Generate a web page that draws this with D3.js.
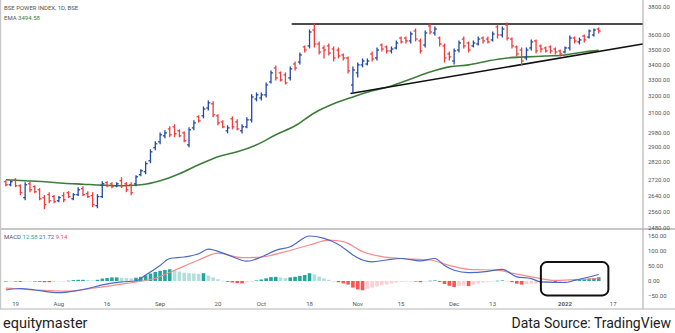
<!DOCTYPE html>
<html><head><meta charset="utf-8">
<script src="https://cdn.jsdelivr.net/npm/d3@7"></script>
<style>body{margin:0;background:#fff}svg{display:block}text{font-family:Roboto,"Open Sans",sans-serif}</style>
</head><body><svg id="c" width="675" height="333"></svg>
<script>
// ---------- data ----------
const barIndex = d3.range(-2, 122); // trading-day index, 0 = 19 Jul 2021
const open  = [2712,2696,2722,2691,2630,2701,2686,2670,2630,2645,2635,2614,2640,2655,2624,2645,2676,2650,2640,2589,2635,2707,2701,2691,2717,2701,2696,2701,2749,2765,2824,2896,2929,2963,3003,3015,2992,2980,2912,3009,3074,3080,3127,3152,3080,3044,2992,3062,3044,2992,3015,3056,3182,3188,3207,3288,3378,3346,3333,3314,3404,3417,3518,3525,3635,3538,3511,3525,3504,3497,3464,3444,3269,3346,3398,3404,3471,3444,3531,3518,3491,3511,3579,3579,3559,3628,3559,3531,3663,3614,3579,3525,3471,3424,3497,3572,3545,3525,3538,3579,3572,3566,3656,3600,3670,3572,3518,3497,3444,3511,3559,3525,3511,3518,3504,3491,3484,3511,3579,3552,3593,3586,3600,3642];
const high  = [2717,2717,2728,2696,2707,2712,2691,2676,2640,2655,2640,2635,2655,2660,2650,2681,2686,2660,2655,2645,2712,2712,2707,2707,2733,2707,2707,2743,2775,2818,2884,2929,2980,2992,3015,3027,2998,2986,3009,3050,3080,3133,3170,3164,3086,3050,3021,3074,3056,3027,3068,3207,3219,3219,3282,3359,3391,3352,3346,3385,3417,3477,3525,3635,3677,3552,3525,3538,3518,3511,3471,3451,3385,3411,3437,3437,3484,3511,3538,3525,3518,3559,3586,3586,3621,3642,3572,3628,3677,3656,3586,3538,3484,3504,3559,3586,3552,3559,3586,3586,3586,3621,3670,3656,3684,3579,3525,3511,3511,3566,3566,3531,3518,3525,3511,3497,3518,3593,3586,3579,3600,3635,3642,3649];
const low   = [2691,2691,2686,2645,2619,2660,2655,2619,2574,2604,2604,2609,2609,2630,2619,2640,2640,2630,2584,2579,2630,2686,2681,2686,2681,2660,2645,2691,2743,2754,2813,2884,2918,2952,2958,2958,2958,2929,2901,2998,3044,3068,3115,3074,3027,3009,2980,3003,2998,2980,3009,3044,3170,3176,3194,3282,3301,3294,3275,3301,3365,3404,3484,3511,3518,3471,3444,3464,3424,3444,3431,3346,3219,3320,3385,3398,3424,3431,3491,3477,3477,3504,3545,3545,3545,3559,3477,3518,3607,3600,3525,3417,3431,3404,3484,3511,3484,3518,3531,3545,3545,3559,3579,3586,3566,3511,3457,3398,3431,3497,3477,3484,3484,3477,3471,3457,3477,3497,3545,3538,3552,3579,3593,3614];
const close = [2696,2712,2691,2655,2696,2670,2660,2624,2594,2614,2609,2630,2619,2635,2645,2670,2645,2635,2594,2635,2701,2691,2686,2701,2691,2670,2655,2738,2770,2808,2873,2918,2969,2980,2969,2975,2963,2935,2998,3038,3050,3121,3158,3086,3038,3015,3009,3015,3003,3015,3056,3194,3207,3207,3269,3346,3314,3301,3282,3372,3378,3464,3497,3621,3538,3484,3497,3477,3444,3457,3444,3359,3365,3398,3424,3424,3437,3497,3504,3491,3504,3545,3552,3559,3607,3572,3491,3614,3621,3642,3538,3444,3451,3491,3545,3525,3497,3545,3572,3559,3552,3607,3600,3642,3579,3525,3471,3424,3497,3552,3491,3504,3491,3491,3484,3471,3511,3579,3559,3566,3566,3628,3635,3628];

const emaIdx = [-2,2,6,10,14,18,22,26,30,34,38,42,46,50,54,58,62,66,70,74,78,82,86,90,94,98,102,106,110,114,118,121];
const emaVal = [2722,2717,2712,2704,2699,2694,2691,2696,2717,2754,2802,2846,2873,2912,2969,3021,3097,3152,3194,3232,3263,3307,3352,3385,3398,3424,3444,3451,3457,3464,3484,3494.58];

const macdIdx = [-2,1,4,9,11,15,18,22,25,27,30,32,35,38,40,44,48,51,54,57,61,64,67,70,72,74,77,80,84,87,89,91,94,98,101,104,107,109,114,116,121];
const macdVal = [-30,-25,-30,-39,-36,-25,-13,-3,0,20,52,75,80,91,106,87,66,80,102,114,150,142,122,87,70,64,70,75,67,75,52,36,28,32,39,14,8,-3,-5,2,21.72];
const signalIdx = [-2,4,11,16,23,29,33,38,42,47,51,56,61,65,68,72,76,80,86,90,94,100,103,107,112,117,121];
const signalVal = [-24,-30,-34,-24,-8,9,36,70,93,78,80,98,120,136,131,98,81,75,70,52,39,36,26,14,2,5,9.14];
const hist = [-2,-1,-1,-3,-2,-1,-1,-3,-4,-4,-3,-2,-1,1,3,4,4,3,2,4,8,10,12,12,11,10,9,11,14,19,25,30,34,37,39,36,32,28,26,25,24,26,18,12,6,1,-3,-5,-7,-8,-4,-1,2,5,9,13,14,12,10,12,14,17,20,26,22,15,9,4,0,-4,-8,-12,-22,-28,-31,-26,-22,-18,-14,-11,-8,-5,-3,-2,-1,-1,-4,-2,1,2,-3,-10,-16,-20,-17,-15,-17,-12,-8,-5,-3,-1,1,2,0,-4,-9,-12,-11,-9,-8,-7,-5,-4,-6,-5,-3,-1,2,4,6,8,10,12.58];

const priceTicks = [3800,3600,3500,3400,3300,3200,3100,2980,2900,2820,2720,2640,2560,2480];
const macdTicks = [150,100,50,0,-50];
const timeTickIdx = [0,9,19,30,42,51,61,71,80,91,99,114,124];
const timeTickLabels = ["19","Aug","16","Sep","20","Oct","18","Nov","15","Dec","13","2022","17"];

const resistIdx = [57.3,130.1], resistPrice = [3677,3677];
const supportIdx = [69.5,130.1], supportPrice = [3215,3538];
const boxIdx = [109,123], boxMacd = [63,-48];

// ---------- layout ----------
const svg = d3.select("#c");
const W = 675, axisX = 643, paneSep = 229, bottomLine = 309;
const x = d3.scaleLinear().domain([0,124]).range([15.5,613.2]);
const y = d3.scaleLog().domain([2480,3800]).range([228,7]);
const ym = d3.scaleLinear().domain([-50,150]).range([296,236]);

const UP = "#2148a8", DOWN = "#f23b3b";
svg.append("rect").attr("width",W).attr("height",333).attr("fill","#fff");

// frame lines
svg.append("line").attr("x1",0).attr("x2",W).attr("y1",paneSep).attr("y2",paneSep).attr("stroke","#b5b5b5").attr("stroke-width",1.5);
svg.append("line").attr("x1",0).attr("x2",W).attr("y1",bottomLine).attr("y2",bottomLine).attr("stroke","#b5b5b5").attr("stroke-width",1.2);
svg.append("line").attr("x1",axisX).attr("x2",axisX).attr("y1",0).attr("y2",bottomLine).attr("stroke","#b5b5b5").attr("stroke-width",1.2);
svg.append("line").attr("x1",0.6).attr("x2",0.6).attr("y1",0).attr("y2",bottomLine).attr("stroke","#c8c8c8").attr("stroke-width",1.2);

// price pane
const pricePane = svg.append("g");
const line = d3.line().curve(d3.curveMonotoneX);
pricePane.append("path")
  .attr("d", line(emaIdx.map((d,i)=>[x(d), y(emaVal[i])])))
  .attr("fill","none").attr("stroke","#3d7d3a").attr("stroke-width",1.6);

// trend lines
pricePane.append("line").attr("x1",x(resistIdx[0])).attr("x2",x(resistIdx[1]))
  .attr("y1",y(resistPrice[0])).attr("y2",y(resistPrice[1])).attr("stroke","#111").attr("stroke-width",1.6);
pricePane.append("line").attr("x1",x(supportIdx[0])).attr("x2",x(supportIdx[1]))
  .attr("y1",y(supportPrice[0])).attr("y2",y(supportPrice[1])).attr("stroke","#111").attr("stroke-width",1.6);

// OHLC bars
const bars = pricePane.selectAll("g.bar").data(barIndex).join("g").attr("class","bar")
  .attr("stroke",(d,i)=> close[i] >= open[i] ? UP : DOWN).attr("stroke-width",1.3);
bars.append("line").attr("x1",d=>x(d)).attr("x2",d=>x(d))
  .attr("y1",(d,i)=>y(high[i])-0.5).attr("y2",(d,i)=>y(low[i])+0.5);
bars.append("line").attr("x1",d=>x(d)-2).attr("x2",d=>x(d))
  .attr("y1",(d,i)=>y(open[i])).attr("y2",(d,i)=>y(open[i]));
bars.append("line").attr("x1",d=>x(d)).attr("x2",d=>x(d)+2)
  .attr("y1",(d,i)=>y(close[i])).attr("y2",(d,i)=>y(close[i]));

// price axis
const axG = svg.append("g").attr("font-size",6).attr("fill","#555");
axG.selectAll("text.p").data(priceTicks).join("text").attr("class","p")
  .attr("x",648).attr("y",d=>y(d)).attr("dy","0.35em").text(d=>d3.format(".2f")(d));
axG.selectAll("text.m").data(macdTicks).join("text").attr("class","m")
  .attr("x",648).attr("y",d=>ym(d)).attr("dy","0.35em").text(d=>d3.format(".2f")(d));

// legend
const lg = svg.append("g").attr("font-size",6);
lg.append("text").attr("x",4).attr("y",10).attr("fill","#555").text("BSE POWER INDEX, 1D, BSE");
const emaT = lg.append("text").attr("x",4).attr("y",20).attr("fill","#555");
emaT.append("tspan").text("EMA ");
emaT.append("tspan").attr("fill","#3d7d3a").text(" " + d3.format(".2f")(emaVal[emaVal.length-1]));

// MACD pane
const mp = svg.append("g");
const bw = 3.6;
mp.selectAll("rect.h").data(hist).join("rect").attr("class","h")
  .attr("x",(d,i)=>x(barIndex[i])-bw/2).attr("width",bw)
  .attr("y",d=>Math.min(ym(d),ym(0))).attr("height",d=>Math.max(0.6,Math.abs(ym(d)-ym(0))))
  .attr("fill",(d,i)=>{
    const prev = i>0 ? hist[i-1] : d;
    if (d >= 0) return d >= prev ? "#26a69a" : "#b2dfdb";
    return d <= prev ? "#ff5252" : "#ffcdd2";
  });
mp.append("path").attr("d", line(signalIdx.map((d,i)=>[x(d), ym(signalVal[i])])))
  .attr("fill","none").attr("stroke","#f78a8c").attr("stroke-width",1.2);
mp.append("path").attr("d", line(macdIdx.map((d,i)=>[x(d), ym(macdVal[i])])))
  .attr("fill","none").attr("stroke","#4a68c8").attr("stroke-width",1.2);

const ml = svg.append("text").attr("x",4).attr("y",239).attr("font-size",6).attr("fill","#555");
ml.append("tspan").text("MACD ");
ml.append("tspan").attr("fill","#26a69a").text(" " + d3.format(".2f")(hist[hist.length-1]));
ml.append("tspan").attr("fill","#3f5fc0").text("  " + d3.format(".2f")(macdVal[macdVal.length-1]));
ml.append("tspan").attr("fill","#f05050").text("  " + d3.format(".2f")(signalVal[signalVal.length-1]));

// annotation box
svg.append("rect").attr("x",x(boxIdx[0])).attr("y",ym(boxMacd[0]))
  .attr("width",x(boxIdx[1])-x(boxIdx[0])).attr("height",ym(boxMacd[1])-ym(boxMacd[0]))
  .attr("rx",6).attr("fill","none").attr("stroke","#111").attr("stroke-width",2);

// time axis
svg.append("g").selectAll("text").data(timeTickIdx).join("text")
  .attr("x",d=>x(d)).attr("y",304).attr("dy","0.35em").attr("text-anchor","middle")
  .attr("font-size",6).attr("fill","#555")
  .attr("font-weight",(d,i)=>timeTickLabels[i]==="2022"?"bold":"normal")
  .text((d,i)=>timeTickLabels[i]);

// footer
svg.append("text").attr("x",3).attr("y",328).attr("font-size",14.5).attr("fill","#222").text("equitymaster");
svg.append("text").attr("x",671).attr("y",328).attr("text-anchor","end").attr("font-size",14).attr("fill","#222").text("Data Source: TradingView");
</script></body></html>
